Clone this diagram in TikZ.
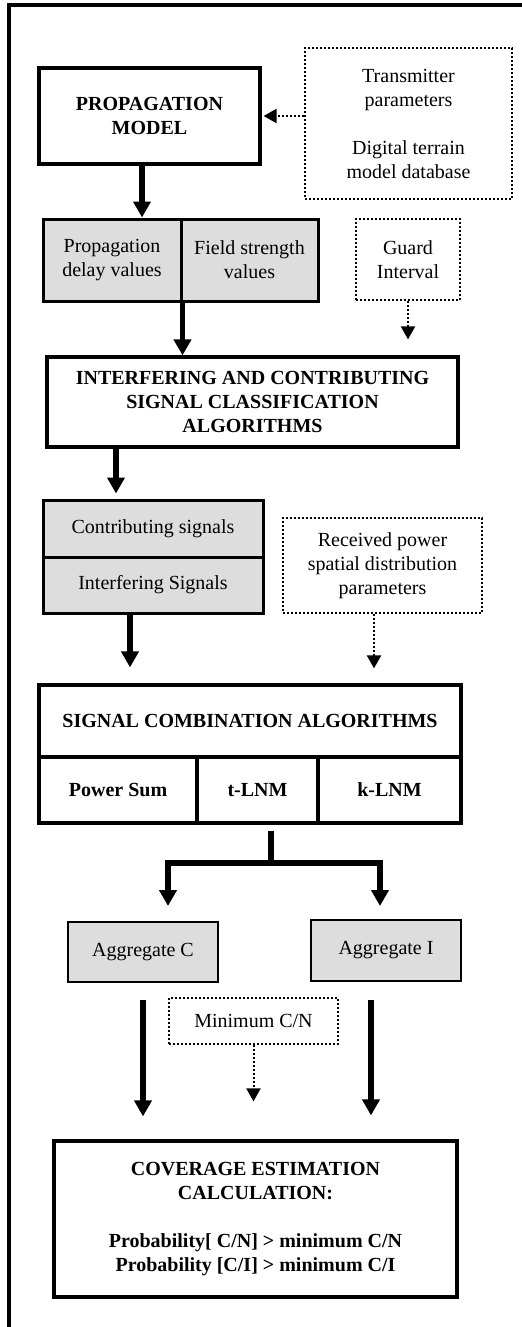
\documentclass[tikz,border=0pt]{standalone}
\usepackage{fontspec}
\setmainfont{Liberation Serif}
\usepackage{xcolor}
\usetikzlibrary{arrows.meta}
\definecolor{BoxGray}{RGB}{221,221,221}

\begin{document}
\begin{tikzpicture}[
    x=0.5pt, y=-0.5pt,
    frame/.style={line width=2pt},
    head/.style={rectangle, draw, line width=1.6pt, align=center,
                 font=\bfseries, inner sep=0pt},
    cell/.style={rectangle, draw, line width=1.5pt, fill=BoxGray,
                 align=center, inner sep=0pt},
    src/.style={rectangle, draw, densely dotted, line width=1pt,
                align=center, inner sep=0pt},
    arr/.style={-{Triangle[length=8pt, width=8.5pt]}, line width=2.6pt},
    darr/.style={-{Triangle[length=6.5pt, width=7pt]}, densely dotted, line width=1pt}
]
\useasboundingbox (0,0) rectangle (522,1327);
\draw[frame] (9,1327) -- (9,5) -- (522,5);

\node[head, minimum width=110.5pt, minimum height=48pt] (pm) at (149.5,116) {PROPAGATION\\MODEL};
\node[src, minimum width=103.5pt, minimum height=75.5pt] (tx) at (408.5,123.5)
     {Transmitter\\parameters\\[12pt]Digital terrain\\model database};
\node[cell, minimum width=69pt, minimum height=41pt]   (pd) at (112,260)   {Propagation\\delay values};
\node[cell, minimum width=68.5pt, minimum height=41pt] (fs) at (249.5,260) {Field strength\\values};
\node[src, minimum width=52pt, minimum height=40.5pt]  (gi) at (408,259.5) {Guard\\Interval};
\node[head, minimum width=205.5pt, minimum height=45pt] (icsc) at (252.5,402)
     {INTERFERING AND CONTRIBUTING\\SIGNAL CLASSIFICATION\\ALGORITHMS};
\node[cell, minimum width=110pt, minimum height=28.5pt] (cs) at (153,528.5) {Contributing signals};
\node[cell, minimum width=110pt, minimum height=28pt]   (is) at (153,585)   {Interfering Signals};
\node[src, minimum width=99.5pt, minimum height=47.5pt] (rp) at (382.5,565.5)
     {Received power\\spatial distribution\\parameters};
\node[head, minimum width=211pt, minimum height=36pt]   (sca) at (250,721) {SIGNAL COMBINATION ALGORITHMS};
\node[head, minimum width=79pt, minimum height=33pt]    (ps)  at (118,790)   {Power Sum};
\node[head, minimum width=60.5pt, minimum height=33pt]  (tl)  at (257.5,790) {t-LNM};
\node[head, minimum width=71.5pt, minimum height=33pt]  (kl)  at (389.5,790) {k-LNM};
\node[cell, line width=1pt, minimum width=75pt, minimum height=30pt]   (ac) at (143,952)   {Aggregate C};
\node[cell, line width=1pt, minimum width=75pt, minimum height=30.5pt] (ai) at (386,950.5) {Aggregate I};
\node[src, minimum width=84.5pt, minimum height=23pt]   (mcn) at (253.5,1021) {Minimum C/N};
\node[head, minimum width=201.5pt, minimum height=78pt] (cov) at (255.5,1219)
     {COVERAGE ESTIMATION\\CALCULATION:\\[12pt]Probability[ C/N] > minimum C/N\\Probability [C/I] > minimum C/I};

\draw[darr, shorten >=1pt] (tx.west |- pm.east) -- (pm.east);
\draw[arr] ([xshift=-3.75pt]pm.south) -- ([xshift=-3.75pt]pm.south |- pd.north);
\draw[arr] (pd.south east) -- (pd.south east |- icsc.north);
\draw[darr, shorten >=8pt] (gi.south) -- (gi.south |- icsc.north);
\draw[arr, shorten >=2.5pt] ([xshift=-18.5pt]cs.north |- icsc.south) -- ([xshift=-18.5pt]cs.north);
\draw[arr, shorten >=8pt] ([xshift=-11.5pt]is.south) -- ([xshift=-11.5pt]is.south |- sca.north);
\draw[darr, shorten >=7.5pt] ([xshift=-4.25pt]rp.south) -- ([xshift=-4.25pt]rp.south |- sca.north);

\coordinate (fork) at (271,863);
\draw[line width=2.6pt, shorten <=3pt] ([xshift=6.75pt]tl.south) -- (fork);
\draw[arr, shorten >=7.5pt] (fork) -| ([xshift=12.5pt]ac.north);
\draw[arr, shorten >=6.5pt] (fork) -| ([xshift=-3pt]ai.north);

\draw[arr, shorten <=8.5pt, shorten >=11.5pt] (ac.south) -- (ac.south |- cov.north);
\draw[darr, shorten >=19pt] (mcn.south) -- (mcn.south |- cov.north);
\draw[arr, shorten <=9pt, shorten >=12pt] ([xshift=-7.5pt]ai.south) -- ([xshift=-7.5pt]ai.south |- cov.north);
\end{tikzpicture}
\end{document}
